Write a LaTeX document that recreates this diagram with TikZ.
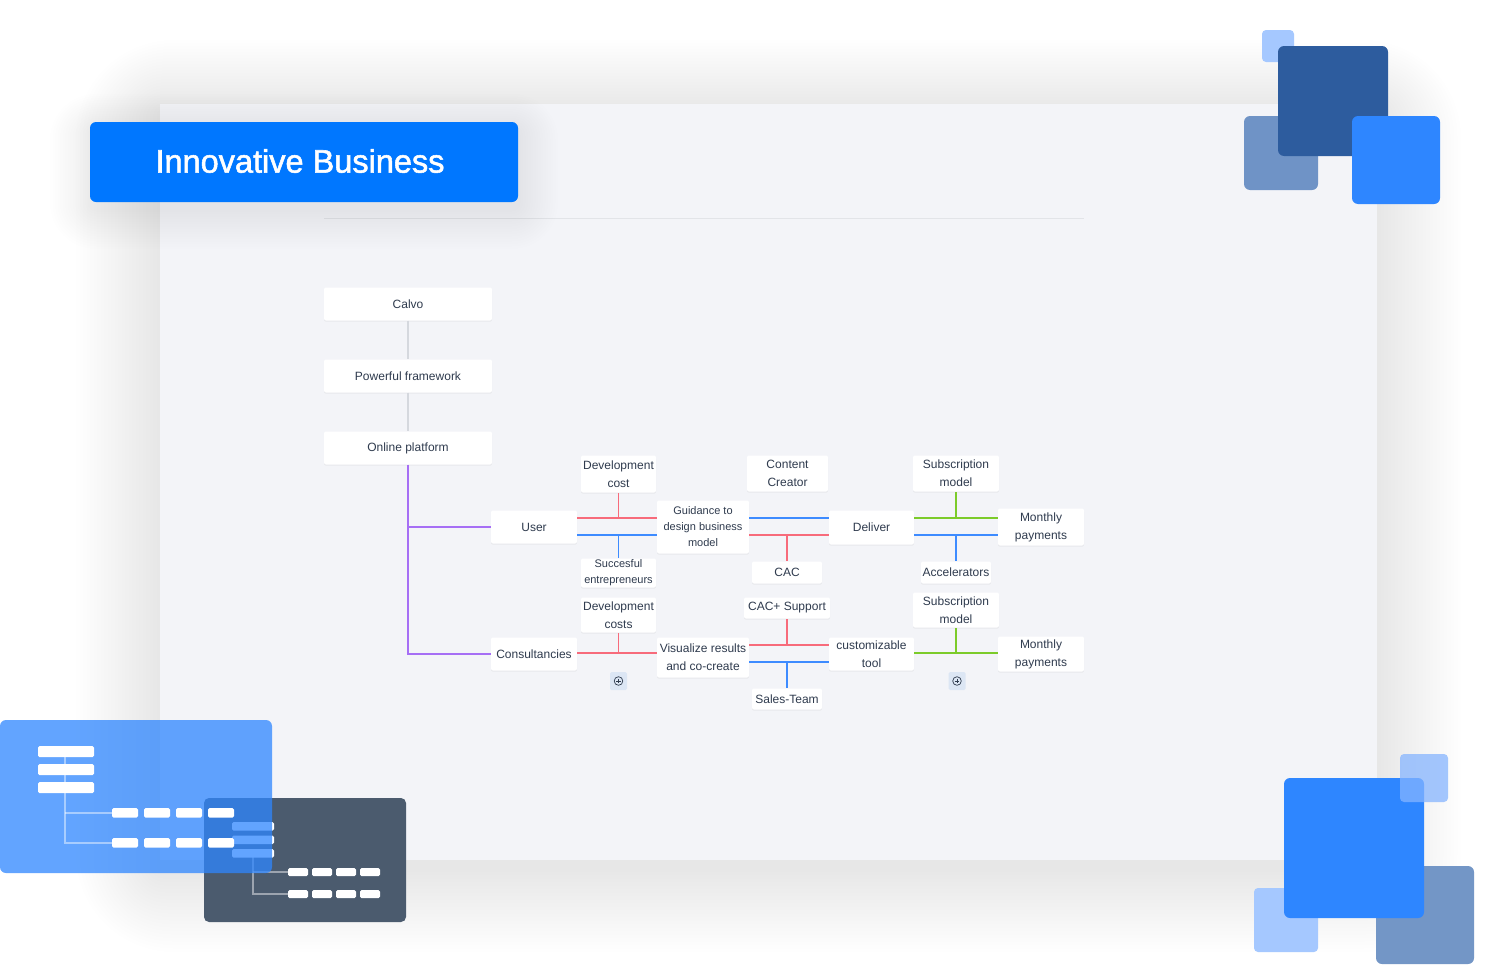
\documentclass[tikz,border=0pt]{standalone}
\usepackage{fontspec}
\setmainfont{Liberation Sans}
\newfontfamily\titlefont[FakeBold=1.6]{Liberation Sans}
\usetikzlibrary{shadows,calc}
\definecolor{panelbg}{HTML}{F3F4F8}
\definecolor{tblue}{HTML}{0077FF}
\definecolor{txt}{HTML}{2F3B4E}
\definecolor{lred}{HTML}{F76B7B}
\definecolor{lblue}{HTML}{3D8BFF}
\definecolor{lgreen}{HTML}{7CCB2A}
\definecolor{lpurple}{HTML}{A66EF5}
\definecolor{lgray}{HTML}{D5D8DE}
\definecolor{hline}{HTML}{E2E4E8}
\definecolor{sqlight}{HTML}{A5C8FF}
\definecolor{sqgray}{HTML}{6F93C6}
\definecolor{sqgraytwo}{HTML}{7396C6}
\definecolor{sqdark}{HTML}{2D5C9E}
\definecolor{sqbright}{HTML}{2E86FF}
\definecolor{sqtop}{HTML}{85B4FF}
\definecolor{darkpanel}{HTML}{4B5B6E}
\definecolor{plusbg}{HTML}{DCE6F4}
\tikzset{
  mapnode/.style={fill=white, rounded corners=2pt, inner sep=0pt, text=txt, align=center,
    font=\fontsize{12}{18}\selectfont,
    drop shadow={opacity=0.10, shadow xshift=0pt, shadow yshift=-1.2pt}},
  smalltext/.style={font=\fontsize{11}{16}\selectfont},
  conn/.style={line width=1.6pt},
  plusbtn/.style={fill=plusbg, rounded corners=1.5pt, minimum width=17, minimum height=18, inner sep=0pt},
  bar/.style={fill=white, rounded corners=1.5pt},
  sq/.style={rounded corners=6pt}
}
\begin{document}
\begin{tikzpicture}[x=1pt,y=-1pt]
\useasboundingbox (0,0) rectangle (1486,972);
\fill[white] (0,0) rectangle (1486,972);

% panel shadow
\foreach \i in {1,...,24}{
  \fill[black, opacity=0.0035, rounded corners={2pt+\i*4pt}]
    (160-\i*3.5, 104-\i*3+8) rectangle (1377+\i*3.5, 860+\i*3.5+8);
}
\fill[panelbg] (160,104) rectangle (1377,860);
\draw[hline, line width=1pt] (324,218) -- (1084,218);

% title shadow
\foreach \i in {1,...,16}{
  \fill[black, opacity=0.0055, rounded corners={6pt+\i*2.5pt}]
    (90-\i*2.5, 122-\i*2.2+7) rectangle (518+\i*2.5, 202+\i*2.5+7);
}
\node[fill=tblue, rounded corners=6pt, minimum width=428, minimum height=80, inner sep=0pt] (title) at (304,162) {};
\node[text=white, font=\titlefont\fontsize{32.5}{36}\selectfont, inner sep=0pt] (titletext) at (300,161) {Innovative Business};

% ---------- mind map nodes ----------
\node[mapnode, minimum width=168, minimum height=33] (calvo) at (408,304) {Calvo};
\node[mapnode, minimum width=168, minimum height=33] (pf) at (408,376) {Powerful framework};
\node[mapnode, minimum width=168, minimum height=33] (op) at (408,448) {Online platform};

\node[mapnode, minimum width=86, minimum height=33] (user) at (534,527) {User};
\node[mapnode, minimum width=75, minimum height=37] (devcost) at (618.5,474) {Development\\cost};
\node[mapnode, smalltext, minimum width=75, minimum height=29] (succ) at (618.5,573) {Succesful\\entrepreneurs};
\node[mapnode, smalltext, minimum width=92, minimum height=53] (guid) at (703,527) {Guidance to\\design business\\model};
\node[mapnode, minimum width=81, minimum height=36] (cc) at (787.5,473.5) {Content\\Creator};
\node[mapnode, minimum width=70, minimum height=22] (cac) at (787,572.5) {CAC};
\node[mapnode, minimum width=85, minimum height=34] (deliver) at (871.5,527.5) {Deliver};
\node[mapnode, minimum width=86, minimum height=36] (subone) at (956,473.5) {Subscription\\model};
\node[mapnode, minimum width=86, minimum height=37] (mpone) at (1041,527) {Monthly\\payments};
\node[mapnode, minimum width=70, minimum height=22] (acc) at (956,572.5) {Accelerators};

\node[mapnode, minimum width=86, minimum height=33] (cons) at (534,654) {Consultancies};
\node[mapnode, minimum width=75, minimum height=35] (devcosts) at (618.5,615) {Development\\costs};
\node[mapnode, minimum width=92, minimum height=40] (vis) at (703,657.5) {Visualize results\\and co-create};
\node[mapnode, minimum width=86, minimum height=21] (cacs) at (787,608) {CAC+ Support};
\node[mapnode, minimum width=70, minimum height=21] (sales) at (787,699) {Sales-Team};
\node[mapnode, minimum width=85, minimum height=33] (cust) at (871.5,654) {customizable\\tool};
\node[mapnode, minimum width=86, minimum height=35] (subtwo) at (956,610) {Subscription\\model};
\node[mapnode, minimum width=86, minimum height=35] (mptwo) at (1041,654) {Monthly\\payments};

% plus buttons
\node[plusbtn] (plusone) at (618.5,681) {};
\node[plusbtn] (plustwo) at (957,681) {};
\foreach \p in {plusone,plustwo}{
  \draw[txt, line width=0.7pt] (\p.center) circle (4.3);
  \draw[txt, line width=0.7pt] ($(\p.center)+(-2.2,0)$) -- ($(\p.center)+(2.2,0)$);
  \draw[txt, line width=0.7pt] ($(\p.center)+(0,-2.2)$) -- ($(\p.center)+(0,2.2)$);
}

% ---------- connectors ----------
\coordinate (ya) at (0,518);
\coordinate (yb) at (0,535);
\coordinate (yc) at (0,653);
\coordinate (yd) at (0,645);
\coordinate (ye) at (0,662);

\draw[lgray, conn] (calvo.south) -- (pf.north);
\draw[lgray, conn] (pf.south) -- (op.north);
\draw[lpurple, conn] (op.south) -- (op.south |- cons.west) -- (cons.west);
\draw[lpurple, conn] (op.south |- user.west) -- (user.west);

% user -> guidance
\draw[lred, conn] (user.east |- ya) -- (guid.west |- ya);
\draw[lred, conn] (devcost.south |- ya) -- (devcost.south);
\draw[lblue, conn] (user.east |- yb) -- (guid.west |- yb);
\draw[lblue, conn] (succ.north |- yb) -- (succ.north);
% guidance -> deliver
\draw[lblue, conn] (guid.east |- ya) -- (deliver.west |- ya);
\draw[lblue, conn] (cc.south -| cac.north |- ya) -- (cc.south -| cac.north);
\draw[lred, conn] (guid.east |- yb) -- (deliver.west |- yb);
\draw[lred, conn] (cac.north |- yb) -- (cac.north);
% deliver -> monthly
\draw[lgreen, conn] (deliver.east |- ya) -- (mpone.west |- ya);
\draw[lgreen, conn] (subone.south |- ya) -- (subone.south);
\draw[lblue, conn] (deliver.east |- yb) -- (mpone.west |- yb);
\draw[lblue, conn] (acc.north |- yb) -- (acc.north);

% consultancies -> visualize
\draw[lred, conn] (cons.east |- yc) -- (vis.west |- yc);
\draw[lred, conn] (devcosts.south |- yc) -- (devcosts.south);
% visualize -> customizable
\draw[lred, conn] (vis.east |- yd) -- (cust.west |- yd);
\draw[lred, conn] (cacs.south |- yd) -- (cacs.south);
\draw[lblue, conn] (vis.east |- ye) -- (cust.west |- ye);
\draw[lblue, conn] (sales.north |- ye) -- (sales.north);
% customizable -> monthly
\draw[lgreen, conn] (cust.east |- yc) -- (mptwo.west |- yc);
\draw[lgreen, conn] (subtwo.south |- yc) -- (subtwo.south);

% ---------- top-right squares ----------
\fill[sqlight, sq, rounded corners=4pt] (1262,30) rectangle (1294,62);
\fill[sqgray, sq] (1244,116) rectangle (1318,190);
\fill[sqdark, sq] (1278,46) rectangle (1388,156);
\fill[sqbright, sq] (1352,116) rectangle (1440,204);

% ---------- bottom-right squares ----------
\fill[sqlight, sq, rounded corners=4pt] (1254,888) rectangle (1318,952);
\fill[sqgraytwo, sq] (1376,866) rectangle (1474,964);
\fill[sqbright, sq] (1284,778) rectangle (1424,918);
\fill[sqtop, opacity=0.74, sq, rounded corners=4pt] (1400,754) rectangle (1448,802);

% ---------- bottom-left illustration ----------
\fill[darkpanel, rounded corners=5pt] (204,798) rectangle (406,922);
\draw[white, opacity=0.45, line width=1.2pt] (253,857) -- (253,894) -- (288,894);
\draw[white, opacity=0.45, line width=1.2pt] (253,872) -- (288,872);
\foreach \yy in {822,835.5,849}{ \fill[bar] (232,\yy) rectangle (274,\yy+8.5); }
\foreach \xx in {288,312,336,360}{
  \fill[bar] (\xx,868) rectangle (\xx+20,876);
  \fill[bar] (\xx,890) rectangle (\xx+20,898);
}
\fill[sqbright, opacity=0.75, rounded corners=6pt] (0,720) rectangle (272,873);
\draw[white, opacity=0.45, line width=1.2pt] (65,757) -- (65,843) -- (112,843);
\draw[white, opacity=0.45, line width=1.2pt] (65,813) -- (112,813);
\foreach \yy in {746,764,782}{ \fill[bar] (38,\yy) rectangle (94,\yy+11); }
\foreach \xx in {112,144,176,208}{
  \fill[bar] (\xx,808) rectangle (\xx+26,817.5);
  \fill[bar] (\xx,838) rectangle (\xx+26,847.5);
}
\end{tikzpicture}
\end{document}
